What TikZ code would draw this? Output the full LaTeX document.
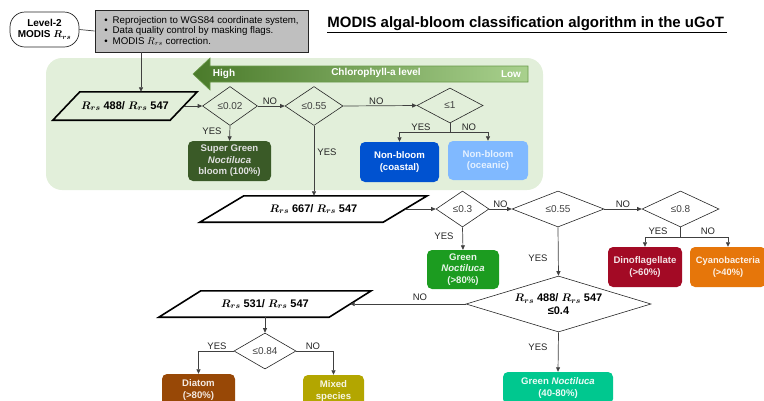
\documentclass[tikz,border=0pt]{standalone}
\usepackage{fontspec}
\setmainfont{Liberation Sans}
\usetikzlibrary{shapes.geometric,arrows.meta}
\definecolor{bggreen}{HTML}{E2EFDA}
\definecolor{linec}{HTML}{404040}
\definecolor{grayfill}{HTML}{BFBFBF}
\definecolor{arrdark}{HTML}{4A7A2A}
\definecolor{arrlight}{HTML}{A9D18E}
\definecolor{arredge}{HTML}{6A9A4A}
\definecolor{csuper}{HTML}{3A5A27}
\definecolor{ccoast}{HTML}{0052D0}
\definecolor{cocean}{HTML}{80B9FF}
\definecolor{cgreen}{HTML}{1C9C20}
\definecolor{cdino}{HTML}{A30A25}
\definecolor{ccyano}{HTML}{E6760A}
\definecolor{cdiatom}{HTML}{984806}
\definecolor{cmixed}{HTML}{B3A600}
\definecolor{cturq}{HTML}{00C88F}
\newcommand{\rrsb}{\mbox{\boldmath$R_{rs}$}}
\newcommand{\rrsn}{\mbox{$R_{rs}$}}
\newcommand{\drawpara}[2]{\draw[line width=1.6pt, line join=miter] ([xshift=-#2]#1.south west) -- ([xshift=#2]#1.north west) -- ([xshift=#2]#1.north east) -- ([xshift=-#2]#1.south east) -- cycle;}
\begin{document}
\begin{tikzpicture}[x=1pt,y=-1pt,
  conn/.style={draw=linec, line width=0.7pt},
  arr/.style={conn, -{Triangle[length=4.5pt,width=4pt]}},
  dia/.style={diamond, draw=black!85, line width=0.6pt, inner sep=0pt, aspect=1.5, font=\fontsize{10}{12}\selectfont, text=black!75},
  res/.style={rectangle, rounded corners=5pt, inner sep=1pt, align=center, font=\fontsize{9.6}{11.5}\selectfont\bfseries, text=white},
  lab/.style={font=\fontsize{9.5}{10}\selectfont, text=black!85, inner sep=1pt},
  para/.style={inner sep=0pt, font=\fontsize{11}{13}\selectfont\bfseries},
  wtxt/.style={font=\fontsize{10}{12}\selectfont\bfseries, text=white, inner sep=0pt}]
\useasboundingbox (0,0) rectangle (764,400);
\clip (0,0) rectangle (764,400);

% green background
\fill[bggreen, rounded corners=16pt] (46,58) rectangle (543,190);

% gradient arrow
\shade[left color=arrdark, right color=arrlight, draw=arredge, line width=0.6pt]
  (193,74) -- (210,58) -- (210,66) -- (528,66) -- (528,82) -- (210,82) -- (210,90) -- cycle;
\node[wtxt] (hi) at (224,74) {High};
\node[wtxt] (chl) at (376,73) {Chlorophyll-a level};
\node[wtxt] (lo) at (511,74) {Low};

% top
\node[draw=black!85, line width=0.7pt, rounded corners=15pt, minimum width=69pt, minimum height=35pt, inner sep=1pt, align=center, font=\fontsize{10}{11}\selectfont\bfseries] (pill) at (44.5,29.5) {Level-2\\MODIS \rrsb};
\node[draw=black!85, fill=grayfill, line width=0.7pt, minimum height=42pt, minimum width=213pt, inner sep=1pt, align=left, font=\fontsize{9.7}{10.5}\selectfont] (info) at (201.5,31) {\textbullet\hspace{5pt}Reprojection to WGS84 coordinate system,\\\textbullet\hspace{5pt}Data quality control by masking flags.\\\textbullet\hspace{5pt}MODIS \rrsn\ correction.};
\node[font=\fontsize{15}{17}\selectfont\bfseries, inner sep=0pt] (title) at (527,25) {\underline{MODIS algal-bloom classification algorithm in the uGoT\,}};
\draw[conn] (pill.east) -- (info.west);

% first level
\node[para, minimum width=117pt, minimum height=28pt] (p1) at (125,106) {\rrsb\ 488/ \rrsb\ 547};
\drawpara{p1}{13.5pt}
\draw[arr] ([xshift=-60.5pt]info.south) -- ([xshift=16pt]p1.north);
\node[dia, minimum width=55pt, minimum height=39pt] (d1) at (230,106) {≤0.02};
\node[dia, minimum width=58pt, minimum height=39pt] (d2) at (314,106) {≤0.55};
\node[dia, minimum width=66pt, minimum height=35pt] (d3) at (450,105.5) {≤1};
\node[res, fill=csuper, text=white!88!black, minimum width=83pt, minimum height=40pt] (b1) at (229.5,161) {Super Green\\\textit{Noctiluca}\\bloom (100\%)};
\node[res, fill=ccoast, minimum width=79pt, minimum height=40pt] (b2) at (399.5,162) {Non-bloom\\(coastal)};
\node[res, fill=cocean, text=white!80!cocean, minimum width=80pt, minimum height=39pt] (b3) at (488,160.5) {Non-bloom\\(oceanic)};

\draw[arr] (p1.east) -- (d1.west);
\draw[arr] (d1.east) -- node[lab, above, pos=0.45] (n1) {NO} (d2.west);
\draw[arr] (d2.east) -- node[lab, above, pos=0.45] (n2) {NO} (d3.west);
\draw[arr] (d1.south) -- (b1.north);
\node[lab] (y1) at (212,131) {YES};
\draw[arr] (d3.south) -- ++(0,9) -| (b2.north);
\draw[arr] (d3.south) -- ++(0,9) -| (b3.north);
\node[lab] (y3) at (421,127) {YES};
\node[lab] (n3) at (469,127) {NO};

% second level
\node[para, minimum width=183pt, minimum height=26pt] (p2) at (313.5,209) {\rrsb\ 667/ \rrsb\ 547};
\drawpara{p2}{22pt}
\draw[arr] (d2.south) -- (d2.south |- p2.north);
\node[lab] (y2) at (327,152) {YES};
\node[dia, minimum width=53pt, minimum height=36pt] (d4) at (462.5,209) {≤0.3};
\node[dia, minimum width=92pt, minimum height=36pt] (d5) at (558,209) {≤0.55};
\node[dia, minimum width=77pt, minimum height=36pt] (d6) at (680.5,209) {≤0.8};
\node[res, fill=cgreen, text=white!90!cgreen, minimum width=72pt, minimum height=39pt] (b4) at (463,269.5) {Green\\\textit{Noctiluca}\\(>80\%)};
\node[res, fill=cdino, text=white!88!cdino, minimum width=74pt, minimum height=40pt] (b5) at (645,267) {Dinoflagellate\\(>60\%)};
\node[res, fill=ccyano, text=white!90!ccyano, minimum width=76pt, minimum height=40pt, font=\fontsize{9.3}{11.5}\selectfont\bfseries] (b6) at (728,267) {Cyanobacteria\\(>40\%)};

\draw[arr] (p2.east) -- (d4.west);
\draw[arr] (d4.south) -- (b4.north);
\node[lab] (y4) at (444,236) {YES};
\draw[arr] (d4.east) -- node[lab, above] (n4) {NO} (d5.west);
\draw[arr] (d5.east) -- node[lab, above] (n5) {NO} (d6.west);
\draw[arr] (d6.south) -- ++(0,10) -| (b5.north);
\draw[arr] (d6.south) -- ++(0,10) -| (b6.north);
\node[lab] (y6) at (658,231) {YES};
\node[lab] (n6) at (708,231) {NO};

% third level
\node[dia, minimum width=185pt, minimum height=56pt, aspect=3.3, align=center, font=\fontsize{11}{13}\selectfont\bfseries, text=black] (d7) at (558.5,304) {\rrsb\ 488/ \rrsb\ 547\\≤0.4};
\draw[arr] (d5.south) -- (d7.north);
\node[lab] (y5) at (538,258) {YES};
\node[para, minimum width=170pt, minimum height=26pt] (p3) at (265,304) {\rrsb\ 531/ \rrsb\ 547};
\drawpara{p3}{21pt}
\draw[arr] (d7.west) -- (p3.east);
\node[lab] (n7) at (420,297) {NO};
\node[dia, minimum width=62pt, minimum height=36pt] (d8) at (265,351) {≤0.84};
\draw[arr] (p3.south) -- (d8.north);
\node[res, fill=cdiatom, text=white!88!cdiatom, minimum width=73pt, minimum height=32pt] (b7) at (198.5,390) {Diatom\\(>80\%)};
\node[res, fill=cmixed, text=white!90!cmixed, minimum width=61pt, minimum height=32pt] (b8) at (333.5,391) {Mixed\\species};
\node[res, fill=cturq, text=white!92!cturq, minimum width=110pt, minimum height=32pt] (b9) at (558,388) {Green \textit{Noctiluca}\\(40-80\%)};
\draw[arr] (d8.west) -| (b7.north);
\draw[arr] (d8.east) -| (b8.north);
\node[lab] (y8) at (217,346) {YES};
\node[lab] (n8) at (313,346) {NO};
\draw[arr] (d7.south) -- (b9.north);
\node[lab] (y7) at (538,347) {YES};
\end{tikzpicture}
\end{document}
